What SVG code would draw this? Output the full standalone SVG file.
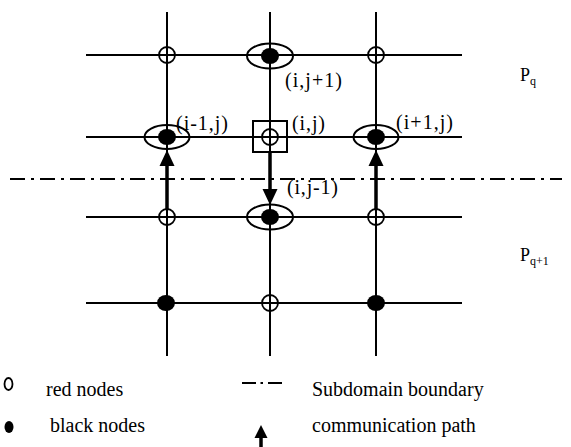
<svg xmlns="http://www.w3.org/2000/svg" width="571" height="447" viewBox="0 0 571 447">
<style>
.g{stroke:#000;stroke-width:2;fill:none}
.ring{stroke:#000;stroke-width:2;fill:none}
.red{stroke:#000;stroke-width:1.8;fill:#fff}
.blk{fill:#000}
.dd{stroke:#000;stroke-width:2;stroke-dasharray:15 6 3 6;fill:none}
.arr{stroke:#000;stroke-width:3.5;fill:none}
.t{font-family:"Liberation Serif","Times New Roman",serif;font-size:20px;fill:#000}
.p{font-family:"Liberation Serif","Times New Roman",serif;font-size:18px;fill:#000}
.s{font-size:12px}
</style>
<g id="grid">
<line class="g" x1="86" y1="55" x2="462" y2="55"/>
<line class="g" x1="86" y1="137" x2="462" y2="137"/>
<line class="g" x1="86" y1="217" x2="462" y2="217"/>
<line class="g" x1="86" y1="303" x2="462" y2="303"/>
<line class="g" x1="167" y1="12" x2="167" y2="356"/>
<line class="g" x1="270" y1="12" x2="270" y2="356"/>
<line class="g" x1="376" y1="12" x2="376" y2="356"/>
</g>
<g id="boundary"><line class="dd" x1="10" y1="179" x2="562" y2="179"/></g>
<g id="connectors">
<line class="arr" x1="167" y1="209" x2="167" y2="166"/>
<polygon points="167,150 159.5,166 174.5,166" fill="#000"/>
<line class="arr" x1="376" y1="209" x2="376" y2="166"/>
<polygon points="376,150 368.5,166 383.5,166" fill="#000"/>
<line class="arr" x1="270" y1="153" x2="270" y2="190"/>
<polygon points="270,205 262.5,189 277.5,189" fill="#000"/>
</g>
<g id="n-1-1"><circle class="red" cx="167" cy="55" r="8"/><line class="g" x1="159" y1="55" x2="175" y2="55"/><line class="g" x1="167" y1="47" x2="167" y2="63"/></g>
<g id="n-2-1"><ellipse class="ring" cx="270" cy="56" rx="23" ry="12.5"/><ellipse class="blk" cx="270" cy="56" rx="9" ry="8"/></g>
<g id="n-3-1"><circle class="red" cx="376" cy="55" r="8"/><line class="g" x1="368" y1="55" x2="384" y2="55"/><line class="g" x1="376" y1="47" x2="376" y2="63"/></g>
<g id="n-1-2"><ellipse class="ring" cx="167" cy="137" rx="22.5" ry="12"/><ellipse class="blk" cx="167" cy="137" rx="9" ry="8"/></g>
<g id="n-2-2"><rect class="ring" x="253" y="121" width="34" height="31"/><circle class="red" cx="270" cy="137" r="8"/><line class="g" x1="262" y1="137" x2="278" y2="137"/><line class="g" x1="270" y1="129" x2="270" y2="145"/></g>
<g id="n-3-2"><ellipse class="ring" cx="376" cy="137" rx="22.5" ry="12"/><ellipse class="blk" cx="376" cy="137" rx="9" ry="8"/></g>
<g id="n-1-3"><circle class="red" cx="167" cy="217" r="8"/><line class="g" x1="159" y1="217" x2="175" y2="217"/><line class="g" x1="167" y1="209" x2="167" y2="225"/></g>
<g id="n-2-3"><ellipse class="ring" cx="270" cy="217" rx="23" ry="12.5"/><ellipse class="blk" cx="270" cy="217" rx="9" ry="8"/></g>
<g id="n-3-3"><circle class="red" cx="376" cy="217" r="8"/><line class="g" x1="368" y1="217" x2="384" y2="217"/><line class="g" x1="376" y1="209" x2="376" y2="225"/></g>
<g id="n-1-4"><ellipse class="blk" cx="166" cy="303" rx="9" ry="8"/></g>
<g id="n-2-4"><circle class="red" cx="270" cy="303" r="8"/><line class="g" x1="262" y1="303" x2="278" y2="303"/><line class="g" x1="270" y1="295" x2="270" y2="311"/></g>
<g id="n-3-4"><ellipse class="blk" cx="376" cy="303" rx="9" ry="8"/></g>
<g id="labels">
<text class="t" x="285" y="87" textLength="57" lengthAdjust="spacing">(i,j+1)</text>
<text class="t" x="176" y="130" textLength="52" lengthAdjust="spacing">(i-1,j)</text>
<text class="t" x="292" y="130" textLength="33" lengthAdjust="spacing">(i,j)</text>
<text class="t" x="396" y="129" textLength="57" lengthAdjust="spacing">(i+1,j)</text>
<text class="t" x="287" y="194" textLength="51" lengthAdjust="spacing">(i,j-1)</text>
<text class="p" x="520" y="81">P<tspan class="s" dy="4">q</tspan></text>
<text class="p" x="520" y="261">P<tspan class="s" dy="4">q+1</tspan></text>
</g>
<g id="legend">
<ellipse cx="8.5" cy="384" rx="4" ry="6" fill="none" stroke="#000" stroke-width="1.8"/>
<ellipse cx="9" cy="427" rx="4.5" ry="6" fill="#000"/>
<text class="t" x="46" y="396">red nodes</text>
<text class="t" x="50" y="432">black nodes</text>
<line x1="242" y1="383" x2="256" y2="383" stroke="#000" stroke-width="2"/>
<line x1="260.5" y1="383" x2="263" y2="383" stroke="#000" stroke-width="2"/>
<line x1="268" y1="383" x2="282" y2="383" stroke="#000" stroke-width="2"/>
<line x1="261" y1="437" x2="261" y2="447" stroke="#000" stroke-width="3.5"/>
<polygon points="261,425 254.5,438 267.5,438" fill="#000"/>
<text class="t" x="312" y="396">Subdomain boundary</text>
<text class="t" x="312" y="432">communication path</text>
</g>
</svg>
